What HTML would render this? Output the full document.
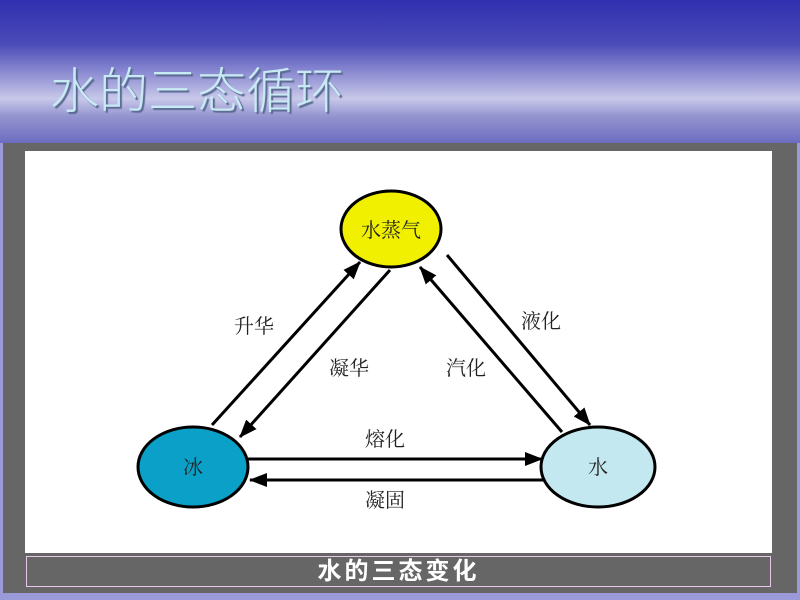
<!DOCTYPE html>
<html><head><meta charset="utf-8"><style>
body{margin:0;width:800px;height:600px;overflow:hidden;font-family:"Liberation Sans","Noto Sans CJK SC",sans-serif;}
#hdr{position:absolute;left:0;top:0;width:800px;height:145px;background:linear-gradient(180deg,#3030b0 0%,#4a4ab8 30%,#9c9cd8 55%,#c8c8ea 68%,#9494d0 80%,#6a6ac0 100%);}
#title{position:absolute;left:50px;top:52px;font-size:49px;color:#c8eaf4;text-shadow:2px 2px 1px #5a6a90;font-family:"Noto Sans CJK SC",sans-serif;font-weight:300;letter-spacing:0px;}
#panel{position:absolute;left:3px;top:143px;width:794px;height:450px;background:#666;}
#lav{position:absolute;left:0;top:143px;width:800px;height:457px;background:#9a9ad8;}
#white{position:absolute;left:25px;top:151px;width:747px;height:402px;background:#fff;}
#cap{position:absolute;left:26px;top:556px;width:745px;height:31px;background:#666;border:1px solid #e8c8e8;box-sizing:border-box;color:#fff;font-size:24px;text-align:center;line-height:29px;font-weight:bold;letter-spacing:3px;}
</style></head><body>
<div id="hdr"></div>
<div id="title">水的三态循环</div>
<div id="lav"></div>
<div id="panel"></div>
<div id="white"></div>
<div id="cap">水的三态变化</div>
<svg width="800" height="600" style="position:absolute;left:0;top:0">
<defs>
<marker id="b" markerWidth="18" markerHeight="14" refX="17" refY="7" orient="auto" markerUnits="userSpaceOnUse"><path d="M0,0L18,7L0,14z" fill="#000"/></marker></defs>
<g stroke="#000" stroke-width="3" fill="none">
<line x1="212" y1="425" x2="360" y2="262" marker-end="url(#b)"/>
<line x1="390" y1="270" x2="240" y2="437" marker-end="url(#b)"/>
<line x1="562" y1="432" x2="420" y2="267" marker-end="url(#b)"/>
<line x1="447" y1="255" x2="590" y2="425" marker-end="url(#b)"/>
<line x1="248" y1="459" x2="542" y2="459" marker-end="url(#b)"/>
<line x1="545" y1="480" x2="250" y2="480" marker-end="url(#b)"/>
</g>
<ellipse cx="391" cy="229" rx="50" ry="38" fill="#f0f000" stroke="#000" stroke-width="3"/>
<ellipse cx="193" cy="467" rx="55" ry="40" fill="#0aa0c8" stroke="#000" stroke-width="3"/>
<ellipse cx="598" cy="467" rx="57" ry="40" fill="#c4e8f0" stroke="#000" stroke-width="3"/>
<g font-family="Noto Serif CJK SC,serif" font-size="20" fill="#222" text-anchor="middle">
<text x="391" y="237">水蒸气</text>
<text x="193" y="474">冰</text>
<text x="598" y="474">水</text>
<text x="254" y="333">升华</text>
<text x="349" y="375">凝华</text>
<text x="466" y="375">汽化</text>
<text x="541" y="328">液化</text>
<text x="385" y="446">熔化</text>
<text x="385" y="507">凝固</text>
</g>
</svg>
</body></html>
